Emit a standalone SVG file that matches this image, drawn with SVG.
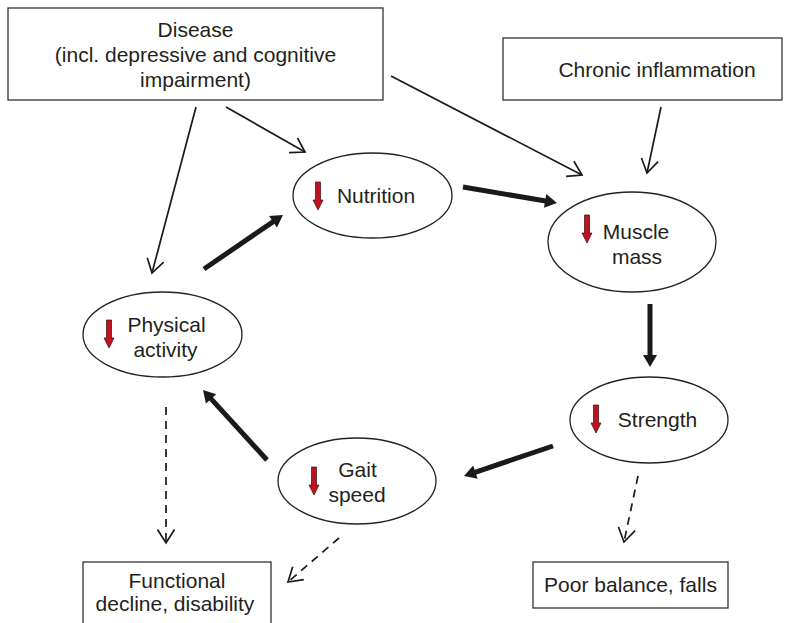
<svg xmlns="http://www.w3.org/2000/svg" xmlns:xlink="http://www.w3.org/1999/xlink" width="811" height="623" viewBox="0 0 811 623">
<style>
  .box { fill: #fff; stroke: #333; stroke-width: 1.3; }
  .ell { fill: #fff; stroke: #222; stroke-width: 1.3; }
  .t { font-family: "Liberation Sans", Arial, Helvetica, sans-serif; font-size: 21px; fill: #231f20; text-anchor: middle; }
  .thin { stroke: #1a1a1a; stroke-width: 1.7; fill: none; }
  .thick { stroke: #1a1a1a; stroke-width: 5; fill: none; }
  .dash { stroke: #1a1a1a; stroke-width: 1.7; fill: none; stroke-dasharray: 8 6; }
  .red { fill: #c1121f; stroke: #3a0b0b; stroke-width: 0.7; }
</style>
<defs>
  <marker id="open" markerUnits="userSpaceOnUse" viewBox="-16 -10 18 20" markerWidth="18" markerHeight="20" refX="0" refY="0" orient="auto">
    <path d="M-13.5,-8.5 L0,0 L-13.5,8.5" fill="none" stroke="#1a1a1a" stroke-width="1.7" stroke-linejoin="miter"/>
  </marker>
  <marker id="solid" markerUnits="userSpaceOnUse" viewBox="-4 -9 16 18" markerWidth="16" markerHeight="18" refX="0" refY="0" orient="auto">
    <path d="M-2,-7 L10,0 L-2,7 Z" fill="#1a1a1a"/>
  </marker>
  <path id="down" class="red" d="M-2.5,0 H2.5 V18 H5 L0,28 L-5,18 H-2.5 Z"/>
</defs>
<rect width="811" height="623" fill="#fff"/>

<g id="connectors">
  <line class="thin" x1="196" y1="107" x2="152" y2="273" marker-end="url(#open)"/>
  <line class="thin" x1="226" y1="107" x2="305" y2="152" marker-end="url(#open)"/>
  <line class="thin" x1="391" y1="76" x2="582" y2="175" marker-end="url(#open)"/>
  <line class="thin" x1="661" y1="107" x2="647" y2="173" marker-end="url(#open)"/>
  <line class="thick" x1="463" y1="187" x2="547.1" y2="201.3" marker-end="url(#solid)"/>
  <line class="thick" x1="650" y1="304" x2="650" y2="357" marker-end="url(#solid)"/>
  <line class="thick" x1="553" y1="446" x2="473.5" y2="472.8" marker-end="url(#solid)"/>
  <line class="thick" x1="267" y1="460" x2="209.75" y2="397.4" marker-end="url(#solid)"/>
  <line class="thick" x1="204" y1="269" x2="274.7" y2="220.6" marker-end="url(#solid)"/>
  <line class="dash" x1="166" y1="407" x2="166" y2="543" marker-end="url(#open)"/>
  <line class="dash" x1="339" y1="538" x2="288" y2="582" marker-end="url(#open)"/>
  <line class="dash" x1="638" y1="476" x2="624" y2="542" marker-end="url(#open)"/>
</g>

<g id="disease">
  <rect class="box" x="8" y="8" width="375" height="92"/>
  <text class="t" x="195.5" y="37">Disease</text>
  <text class="t" x="195.5" y="62">(incl. depressive and cognitive</text>
  <text class="t" x="195.5" y="87">impairment)</text>
</g>

<g id="chronic-inflammation">
  <rect class="box" x="503" y="38" width="279" height="62"/>
  <text class="t" x="657" y="77">Chronic inflammation</text>
</g>

<g id="nutrition">
  <ellipse class="ell" cx="372.5" cy="195.5" rx="79.5" ry="42.5"/>
  <use xlink:href="#down" href="#down" x="318" y="182"/>
  <text class="t" x="376" y="203">Nutrition</text>
</g>

<g id="muscle-mass">
  <ellipse class="ell" cx="632" cy="242" rx="84" ry="50"/>
  <use xlink:href="#down" href="#down" x="587" y="215"/>
  <text class="t" x="636" y="239">Muscle</text>
  <text class="t" x="637" y="264">mass</text>
</g>

<g id="strength">
  <ellipse class="ell" cx="649" cy="420" rx="79" ry="43"/>
  <use xlink:href="#down" href="#down" x="596" y="405"/>
  <text class="t" x="657.5" y="427">Strength</text>
</g>

<g id="gait-speed">
  <ellipse class="ell" cx="357" cy="481" rx="79" ry="43"/>
  <use xlink:href="#down" href="#down" x="314" y="467"/>
  <text class="t" x="357.5" y="477">Gait</text>
  <text class="t" x="357" y="502">speed</text>
</g>

<g id="physical-activity">
  <ellipse class="ell" cx="162.5" cy="334.5" rx="79.5" ry="42.5"/>
  <use xlink:href="#down" href="#down" x="109" y="320"/>
  <text class="t" x="166.5" y="332">Physical</text>
  <text class="t" x="165.5" y="357">activity</text>
</g>

<g id="functional-decline">
  <rect class="box" x="83" y="562" width="188" height="80"/>
  <text class="t" x="177" y="588">Functional</text>
  <text class="t" x="175" y="611">decline, disability</text>
</g>

<g id="poor-balance">
  <rect class="box" x="533" y="562" width="195" height="46"/>
  <text class="t" x="630.5" y="592">Poor balance, falls</text>
</g>
</svg>
